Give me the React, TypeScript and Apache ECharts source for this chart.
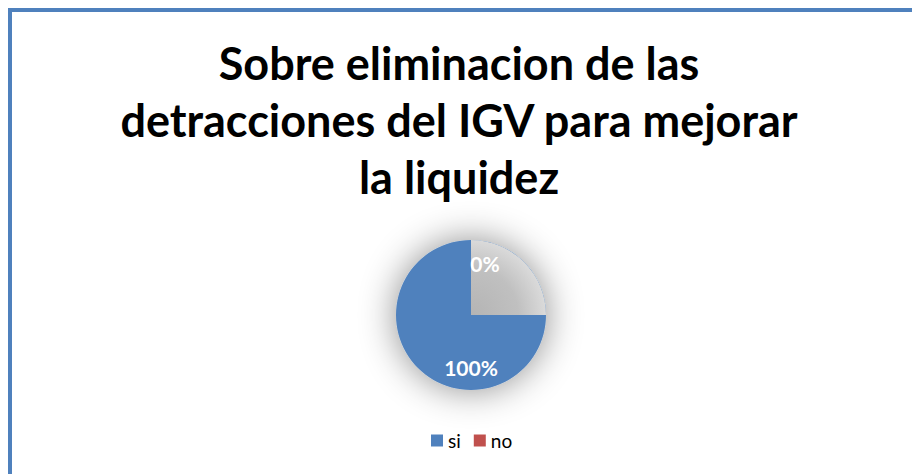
import React, { useEffect, useRef } from "react";
import * as echarts from "echarts";

const titleLines = ["Sobre eliminacion de las", "detracciones del IGV para mejorar", "la liquidez"];
const categories = ["si", "no"];
const values = [100, 0];
const colors = ["#4f81bd", "#c0504d"];
const shadeParts = [1, 3];

export default function App() {
  const ref = useRef<HTMLDivElement>(null);
  useEffect(() => {
    if (!ref.current) return;
    const chart = echarts.init(ref.current, null, { renderer: "svg" });
    const data = categories.map((c, i) => ({ name: c, value: values[i], itemStyle: { color: colors[i] } }));
    const center = [459, 303];
    chart.setOption({
      animation: false,
      title: {
        text: titleLines.join("\n"),
        left: 442,
        top: 17,
        textAlign: "center",
        textStyle: { fontFamily: "Lato", fontWeight: "bold", fontSize: 45, lineHeight: 57, color: "#000" },
      },
      legend: {
        data: categories.map((c, i) => ({ name: c, itemStyle: { color: colors[i] } })),
        left: 414,
        top: 414,
        itemWidth: 12,
        itemHeight: 12,
        itemGap: 13,
        icon: "rect",
        textStyle: { fontFamily: "Lato", fontSize: 19, color: "#000", padding: [0, 0, 0, 0] },
      },
      series: [
        {
          type: "pie",
          name: "datos",
          center,
          radius: 75,
          startAngle: 90,
          data,
          label: { show: false },
          labelLine: { show: false },
          itemStyle: { shadowBlur: 36, shadowColor: "rgba(0,0,0,0.45)" },
          silent: true,
          z: 1,
        },
        {
          type: "pie",
          name: "sombra",
          center,
          radius: 75,
          startAngle: 90,
          data: shadeParts.map((v, i) => ({
            name: "s" + i,
            value: v,
            itemStyle: {
              color:
                i === 0
                  ? {
                      type: "radial",
                      x: 0,
                      y: 1,
                      r: 1.05,
                      colorStops: [
                        { offset: 0, color: "#b4b4b4" },
                        { offset: 0.6, color: "#c0c0c0" },
                        { offset: 1, color: "#dedede" },
                      ],
                    }
                  : "rgba(0,0,0,0)",
            },
          })),
          label: { show: false },
          labelLine: { show: false },
          silent: true,
          z: 2,
        },
        {
          type: "pie",
          name: "etiquetas",
          center,
          radius: 98,
          startAngle: 90,
          data: categories.map((c, i) => ({
            name: c,
            value: values[i],
            itemStyle: { color: "rgba(0,0,0,0)" },
            label: i === 1 ? { offset: [14, 0] } : {},
          })),
          label: {
            show: true,
            position: "inside",
            formatter: (p: any) => Math.round(p.percent) + "%",
            fontFamily: "Lato",
            fontWeight: "bold",
            fontSize: 21,
            color: "#fff",
          },
          labelLine: { show: false },
          silent: true,
          z: 3,
        },
      ],
    });
    return () => chart.dispose();
  }, []);
  return (
    <div
      style={{
        width: 912,
        height: 466,
        boxSizing: "border-box",
        borderTop: "4px solid #4f81bd",
        borderLeft: "4px solid #4f81bd",
        background: "#fff",
      }}
    >
      <div ref={ref} style={{ width: 908, height: 462 }} />
    </div>
  );
}
